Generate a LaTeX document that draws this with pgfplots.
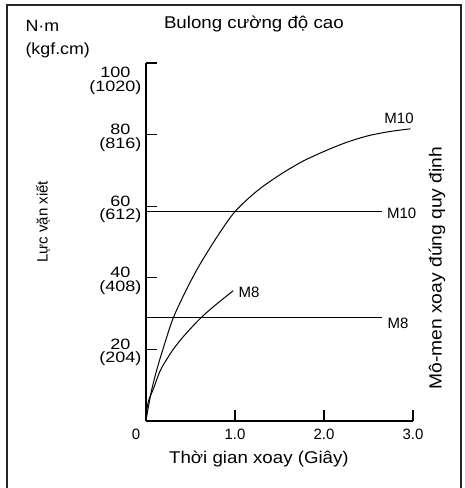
\documentclass[border=0pt]{standalone}
\usepackage{pgfplots}
\pgfplotsset{compat=1.18}
\usepackage{fontspec}
\setmainfont{Liberation Sans}
\newfontfamily\lab{Liberation Sans}[FakeStretch=1.1]
\newfontfamily\wide{Liberation Sans}[FakeStretch=1.2]
\begin{document}
\begin{tikzpicture}
\begin{axis}[
  scale only axis,
  width=267pt, height=358pt,
  xmin=0, xmax=3, ymin=0, ymax=100,
  axis x line=bottom, axis y line=left,
  axis line style={-, line width=1.1pt},
  tick align=inside,
  major tick length=11pt,
  tick style={line width=1.1pt, black},
  xtick={1,2,3},
  xticklabels={1.0,2.0,3.0},
  extra x ticks={0},
  extra x tick labels={0},
  extra x tick style={tick style={draw=none}, xticklabel style={xshift=-10pt}},
  ytick={20,40,60,80},
  yticklabels={{20\\(204)},{40\\(408)},{60\\(612)},{80\\(816)}},
  extra y ticks={100},
  extra y tick labels={{100\\(1020)}},
  extra y tick style={yticklabel style={yshift=-15pt}},
  yticklabel style={align=center, font=\wide\fontsize{15}{13.5}\selectfont, xshift=-1pt, yshift=-3pt},
  xticklabel style={font=\fontsize{15}{15}\selectfont, yshift=-4pt},
  /pgf/number format/assume math mode=true,
  clip=false,
  xlabel={Thời gian xoay (Giây)},
  xlabel style={at={(axis description cs:0.423,-0.106)}, anchor=center, font=\lab\fontsize{17}{18}\selectfont},
  ylabel={Lực vặn xiết},
  ylabel style={at={(axis description cs:-0.386,0.556)}, anchor=center, rotate=0, font=\fontsize{15}{16}\selectfont},
  title={Bulong cường độ cao},
  title style={at={(axis description cs:0.404,1.092)}, anchor=center, font=\lab\fontsize{17}{18}\selectfont},
]
\addplot[black, line width=1pt, smooth] coordinates {
 (0,0) (0.02,3) (0.064,8.7) (0.12,14.2) (0.18,19.2) (0.3,28.4) (0.45,36.5)
 (0.6,43.5) (0.8,51.5) (1.0,58.5) (1.25,64.3) (1.5,68.7) (1.75,72.4) (2.0,75.3)
 (2.25,77.8) (2.5,79.7) (2.75,80.9) (2.97,81.6)};
\addplot[black, line width=1pt, smooth] coordinates {
 (0,0) (0.01,3.2) (0.03,5.8) (0.082,8.9) (0.15,13.5) (0.2,15.9) (0.3,19.8)
 (0.4,23.0) (0.5,25.8) (0.6,28.4) (0.7,30.7) (0.8,32.8) (0.9,34.8) (0.98,36.4)};
\addplot[black, line width=1pt] coordinates {(0,58.5) (2.65,58.5)};
\addplot[black, line width=1pt] coordinates {(0,29) (2.65,29)};
\node[font=\fontsize{15}{15}\selectfont] at (axis cs:2.843,84.6) {M10};
\node[font=\fontsize{15}{15}\selectfont] at (axis cs:2.873,58.1) {M10};
\node[font=\fontsize{15}{15}\selectfont] at (axis cs:2.831,27.4) {M8};
\node[font=\fontsize{15}{15}\selectfont] at (axis cs:1.157,36.0) {M8};
\node[rotate=90, font=\lab\fontsize{17.5}{18}\selectfont] at (axis cs:3.27,42.7) {Mô-men xoay đúng quy định};
\node[anchor=west, font=\lab\fontsize{16.2}{18}\selectfont] at (axis cs:-1.393,110.3) {N·m};
\node[anchor=west, font=\lab\fontsize{16.2}{18}\selectfont] at (axis cs:-1.393,103.6) {(kgf.cm)};
\end{axis}
\draw[line width=2pt, black!85] ([xshift=-139pt,yshift=-67pt]current axis.south west)
  -- ([xshift=-139pt,yshift=58pt]current axis.north west)
  -- ([xshift=48pt,yshift=58pt]current axis.north east)
  -- ([xshift=48pt,yshift=-67pt]current axis.south east);
\pgfresetboundingbox
\useasboundingbox ([xshift=-146pt,yshift=-67pt]current axis.south west) rectangle ([xshift=52pt,yshift=63pt]current axis.north east);
\end{tikzpicture}
\end{document}
